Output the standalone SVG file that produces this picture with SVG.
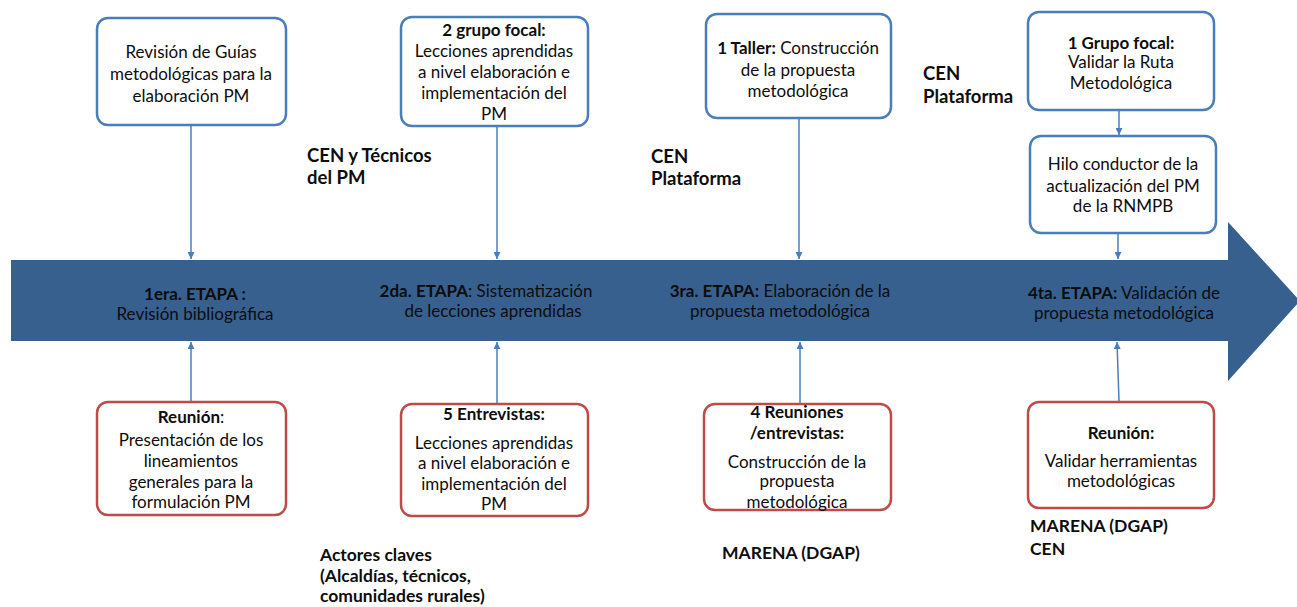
<svg xmlns="http://www.w3.org/2000/svg" width="1297" height="607" viewBox="0 0 1297 607">
  <style>
    text { font-family: Lato, "Liberation Sans", sans-serif; font-size: 17px; fill: #0d0d0d; }
    .c { text-anchor: middle; }
    .b { font-weight: bold; }
    .note { font-weight: bold; font-size: 17.5px; }
    .note-lg { font-weight: bold; font-size: 18.5px; }
    .box-blue { fill: #fff; stroke: #4a7ebb; stroke-width: 2.5; }
    .box-red { fill: #fff; stroke: #be4b48; stroke-width: 2.5; }
    .link { stroke: #4a7ebb; stroke-width: 1.5; fill: none; marker-end: url(#tip); }
  </style>
  <defs>
    <marker id="tip" viewBox="0 0 10 10" refX="10" refY="5" markerWidth="7" markerHeight="7" markerUnits="userSpaceOnUse" orient="auto">
      <path d="M0,0 L10,5 L0,10 z" fill="#4a7ebb"/>
    </marker>
  </defs>

  <!-- timeline band -->
  <g id="timeline">
    <path d="M11,260 L1228,260 L1228,222 L1300,301 L1228,381 L1228,341 L11,341 z" fill="#37608f"/>
  </g>

  <!-- connectors -->
  <g id="connectors">
    <line class="link" x1="191" y1="126" x2="191" y2="259"/>
    <line class="link" x1="497" y1="127" x2="497" y2="259"/>
    <line class="link" x1="799" y1="119" x2="799" y2="259"/>
    <line class="link" x1="1119" y1="111" x2="1119" y2="135"/>
    <line class="link" x1="1118" y1="234" x2="1118" y2="259"/>
    <line class="link" x1="191" y1="401" x2="191" y2="342"/>
    <line class="link" x1="497" y1="403" x2="497" y2="342"/>
    <line class="link" x1="800" y1="403" x2="800" y2="342"/>
    <line class="link" x1="1119" y1="401" x2="1117" y2="342"/>
  </g>

  <!-- stage labels on the band -->
  <g id="etapa1">
    <text class="c b" x="195" y="300">1era. ETAPA :</text>
    <text class="c" x="195" y="320">Revisión bibliográfica</text>
  </g>
  <g id="etapa2">
    <text class="c" x="486" y="297"><tspan class="b">2da. ETAPA</tspan>:  Sistematización</text>
    <text class="c" x="493" y="317">de lecciones aprendidas</text>
  </g>
  <g id="etapa3">
    <text class="c" x="780" y="297"><tspan class="b">3ra. ETAPA:</tspan> Elaboración de la</text>
    <text class="c" x="780" y="317">propuesta metodológica</text>
  </g>
  <g id="etapa4">
    <text class="c" x="1124" y="299"><tspan class="b">4ta. ETAPA:</tspan> Validación de</text>
    <text class="c" x="1124" y="319">propuesta metodológica</text>
  </g>

  <!-- upper activity boxes -->
  <g id="guias">
    <rect class="box-blue" x="97" y="18" width="189" height="107" rx="11"/>
    <text class="c" x="191" y="58">Revisión de Guías</text>
    <text class="c" x="191" y="80">metodológicas para la</text>
    <text class="c" x="191" y="102">elaboración PM</text>
  </g>
  <g id="grupo-focal-2">
    <rect class="box-blue" x="401" y="17" width="187" height="109" rx="11"/>
    <text class="c b" x="494" y="36">2 grupo focal:</text>
    <text class="c" x="494" y="57">Lecciones aprendidas</text>
    <text class="c" x="494" y="78">a nivel elaboración e</text>
    <text class="c" x="494" y="99">implementación del</text>
    <text class="c" x="494" y="120">PM</text>
  </g>
  <g id="taller">
    <rect class="box-blue" x="706" y="14" width="185" height="104" rx="11"/>
    <text class="c" x="798" y="54"><tspan class="b">1 Taller:</tspan> Construcción</text>
    <text class="c" x="798" y="76">de la propuesta</text>
    <text class="c" x="798" y="97">metodológica</text>
  </g>
  <g id="grupo-focal-1">
    <rect class="box-blue" x="1028" y="12" width="186" height="98" rx="11"/>
    <text class="c b" x="1121" y="49">1 Grupo focal:</text>
    <text class="c" x="1121" y="68">Validar la Ruta</text>
    <text class="c" x="1121" y="89">Metodológica</text>
  </g>
  <g id="hilo">
    <rect class="box-blue" x="1030" y="136" width="186" height="97" rx="11"/>
    <text class="c" x="1123" y="170">Hilo conductor de la</text>
    <text class="c" x="1123" y="192">actualización del PM</text>
    <text class="c" x="1123" y="212">de la RNMPB</text>
  </g>

  <!-- lower activity boxes -->
  <g id="reunion-1">
    <rect class="box-red" x="97" y="402" width="189" height="113" rx="11"/>
    <text class="c" x="191" y="423"><tspan class="b">Reunión</tspan>:</text>
    <text class="c" x="191" y="446">Presentación de los</text>
    <text class="c" x="191" y="467">lineamientos</text>
    <text class="c" x="191" y="488">generales para la</text>
    <text class="c" x="191" y="508">formulación PM</text>
  </g>
  <g id="entrevistas">
    <rect class="box-red" x="401" y="404" width="187" height="112" rx="11"/>
    <text class="c b" x="494" y="420">5 Entrevistas:</text>
    <text class="c" x="494" y="449">Lecciones aprendidas</text>
    <text class="c" x="494" y="469">a nivel elaboración e</text>
    <text class="c" x="494" y="490">implementación del</text>
    <text class="c" x="494" y="510">PM</text>
  </g>
  <g id="reuniones-4">
    <rect class="box-red" x="704" y="404" width="187" height="106" rx="11"/>
    <text class="c b" x="797" y="418">4 Reuniones</text>
    <text class="c b" x="797" y="439">/entrevistas:</text>
    <text class="c" x="797" y="468">Construcción de la</text>
    <text class="c" x="797" y="487">propuesta</text>
    <text class="c" x="797" y="508">metodológica</text>
  </g>
  <g id="reunion-2">
    <rect class="box-red" x="1028" y="402" width="186" height="106" rx="11"/>
    <text class="c b" x="1121" y="439">Reunión:</text>
    <text class="c" x="1121" y="467">Validar herramientas</text>
    <text class="c" x="1121" y="487">metodológicas</text>
  </g>

  <!-- participant notes -->
  <g id="actores-2">
    <text class="note-lg" x="307" y="162">CEN y Técnicos</text>
    <text class="note-lg" x="307" y="184">del PM</text>
  </g>
  <g id="actores-3">
    <text class="note-lg" x="651" y="163">CEN</text>
    <text class="note-lg" x="651" y="185">Plataforma</text>
  </g>
  <g id="actores-4">
    <text class="note-lg" x="923" y="80">CEN</text>
    <text class="note-lg" x="923" y="103">Plataforma</text>
  </g>
  <g id="actores-claves">
    <text class="note" x="320" y="561">Actores claves</text>
    <text class="note" x="320" y="582">(Alcaldías, técnicos,</text>
    <text class="note" x="320" y="602">comunidades rurales)</text>
  </g>
  <g id="marena-3">
    <text class="note" x="722" y="559">MARENA (DGAP)</text>
  </g>
  <g id="marena-4">
    <text class="note" x="1030" y="532">MARENA (DGAP)</text>
    <text class="note" x="1030" y="555">CEN</text>
  </g>
</svg>
